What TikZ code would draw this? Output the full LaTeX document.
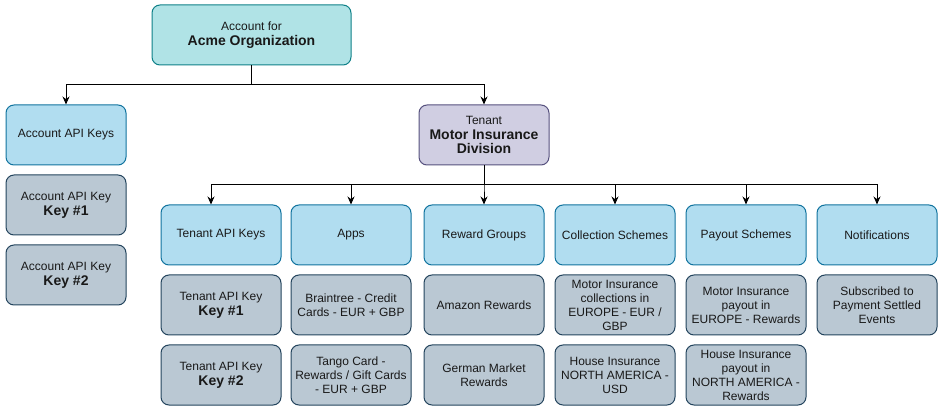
\documentclass[tikz,border=0pt]{standalone}
\usepackage{fontspec}
\setmainfont{Liberation Sans}
\usetikzlibrary{arrows.meta}
\definecolor{tealF}{HTML}{B0E3E6}\definecolor{tealD}{HTML}{0E8088}
\definecolor{blueF}{HTML}{B1DDF0}\definecolor{blueD}{HTML}{10739E}
\definecolor{greyF}{HTML}{BAC8D3}\definecolor{greyD}{HTML}{23445D}
\definecolor{purF}{HTML}{D0CEE2}\definecolor{purD}{HTML}{56517E}
\newcommand{\bk}[1]{{\fontsize{14}{16}\selectfont\bfseries #1}}
\tikzset{
  box/.style={rounded corners=8pt, line width=1pt, minimum width=120pt, minimum height=60pt,
    align=center, inner sep=0pt, font=\fontsize{12}{14}\selectfont, text=black!90},
  catbox/.style={box, fill=blueF, draw=blueD},
  itembox/.style={box, fill=greyF, draw=greyD},
  arr/.style={line width=1pt, -{Stealth[length=8pt,width=7pt]}}
}
\begin{document}
\begin{tikzpicture}[x=1pt,y=-1pt]
\useasboundingbox (0,0) rectangle (942,411);
\node[box, fill=tealF, draw=tealD, minimum width=199pt] (acct) at (251.5,35) {Account for\\[1pt]\bk{Acme Organization}};
\node[catbox] (aak) at (66,135) {Account API Keys};
\node[itembox] (ak1) at (66,205) {Account API Key\\[1pt]\bk{Key \#1}};
\node[itembox] (ak2) at (66,275) {Account API Key\\[1pt]\bk{Key \#2}};
\node[box, fill=purF, draw=purD, minimum width=130pt] (ten) at (484,135) {Tenant\\[1pt]\bk{Motor Insurance}\\\bk{Division}};

\node[catbox] (tak) at (221,235) {Tenant API Keys};
\node[itembox] (tk1) at (221,305) {Tenant API Key\\[1pt]\bk{Key \#1}};
\node[itembox] (tk2) at (221,375) {Tenant API Key\\[1pt]\bk{Key \#2}};

\node[catbox] (apps) at (351,235) {Apps};
\node[itembox] (ap1) at (351,305) {Braintree - Credit\\Cards - EUR + GBP};
\node[itembox] (ap2) at (351,375) {Tango Card -\\Rewards / Gift Cards\\- EUR + GBP};

\node[catbox] (rg) at (484,235) {Reward Groups};
\node[itembox] (rg1) at (484,305) {Amazon Rewards};
\node[itembox] (rg2) at (484,375) {German Market\\Rewards};

\node[catbox] (cs) at (615,235) {Collection Schemes};
\node[itembox] (cs1) at (615,305) {Motor Insurance\\collections in\\EUROPE - EUR /\\GBP};
\node[itembox] (cs2) at (615,375) {House Insurance\\NORTH AMERICA -\\USD};

\node[catbox] (ps) at (746,235) {Payout Schemes};
\node[itembox] (ps1) at (746,305) {Motor Insurance\\payout in\\EUROPE - Rewards};
\node[itembox] (ps2) at (746,375) {House Insurance\\payout in\\NORTH AMERICA -\\Rewards};

\node[catbox] (nt) at (877,235) {Notifications};
\node[itembox] (nt1) at (877,305) {Subscribed to\\Payment Settled\\Events};

\coordinate (bus1) at (251.5,85);
\coordinate (bus2) at (484,185);
\draw[arr] (acct.south) -- (bus1) -| (aak.north);
\draw[arr] (acct.south) -- (bus1) -| (ten.north);
\draw[arr] (ten.south) -- (bus2) -| ([xshift=-10pt]tak.north);
\foreach \n in {apps,rg,cs,ps,nt}
  \draw[arr] (ten.south) -- (bus2) -| (\n.north);
\end{tikzpicture}
\end{document}
